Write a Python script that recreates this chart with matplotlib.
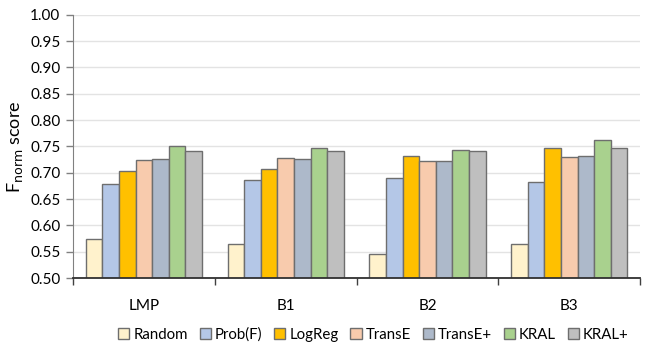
import matplotlib as mpl
import matplotlib.pyplot as plt
import numpy as np

mpl.rcParams['font.family'] = ['Lato', 'DejaVu Sans']

categories = ['LMP', 'B1', 'B2', 'B3']
methods = ['Random', 'Prob(F)', 'LogReg', 'TransE', 'TransE+', 'KRAL', 'KRAL+']
scores = {
    'Random':  [0.575, 0.565, 0.545, 0.565],
    'Prob(F)': [0.678, 0.686, 0.690, 0.682],
    'LogReg':  [0.704, 0.708, 0.732, 0.748],
    'TransE':  [0.724, 0.728, 0.722, 0.730],
    'TransE+': [0.726, 0.726, 0.722, 0.732],
    'KRAL':    [0.750, 0.748, 0.744, 0.762],
    'KRAL+':   [0.742, 0.742, 0.742, 0.748],
}
colors = ['#FFF2CC', '#B4C7E7', '#FFC000', '#F8CBAD', '#ADB9CA', '#A9D18E', '#BFBFBF']
yticks = np.arange(0.50, 1.001, 0.05)

fig = plt.figure(figsize=(6.46, 3.45), dpi=100)
ax = fig.add_axes([0.113, 0.194, 0.878, 0.763])

x = np.arange(len(categories))
width = 0.117
for i, (m, c) in enumerate(zip(methods, colors)):
    offs = (i - 3) * width
    ax.bar(x + offs, scores[m], width, bottom=0, color=c, edgecolor='#6E6E6E',
           linewidth=1.0, label=m, zorder=3)

ax.set_ylim(0.5, 1.0)
ax.set_xlim(-0.5, len(categories) - 0.5)
ax.set_yticks(yticks)
ax.set_yticklabels([f'{v:.2f}' for v in yticks], fontsize=11)
ax.yaxis.grid(True, color='#E3E3E3', linewidth=1.0, zorder=0)

# category labels without ticks, separator ticks between categories
ax.set_xticks(x)
ax.set_xticklabels(categories, fontsize=11)
ax.tick_params(axis='x', length=0, pad=15)
ax.set_xticks(np.arange(-0.5, len(categories) + 0.5, 1), minor=True)
ax.tick_params(axis='x', which='minor', length=5, color='#404040', width=1)
ax.tick_params(axis='y', length=5, color='#808080', width=1, pad=4)

for s in ['top', 'right']:
    ax.spines[s].set_visible(False)
ax.spines['left'].set_color('#808080')
ax.spines['bottom'].set_color('#303030')
ax.spines['bottom'].set_linewidth(1.3)
ax.spines['bottom'].set_zorder(4)

ax.set_ylabel('F$_{\\mathrm{norm}}$ score', fontsize=13)

fig.legend(loc='lower center', bbox_to_anchor=(0.578, -0.03), ncol=7, frameon=False,
           fontsize=10.8, handlelength=0.75, handleheight=0.75, handletextpad=0.25,
           columnspacing=0.8)

fig.savefig('out.png', dpi=100)
